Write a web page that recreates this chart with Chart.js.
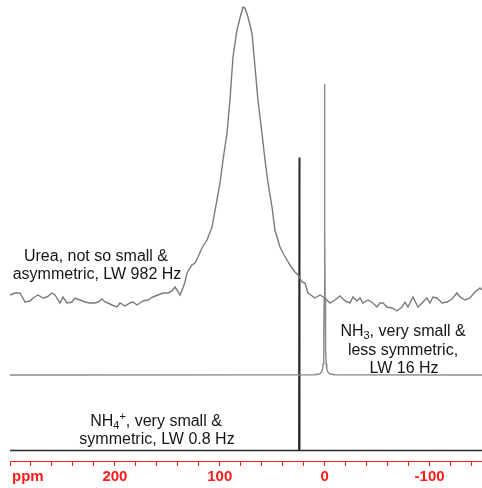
<!DOCTYPE html>
<html>
<head>
<meta charset="utf-8">
<script src="https://cdn.jsdelivr.net/npm/chart.js@4.4.1/dist/chart.umd.min.js"></script>
<style>
  html, body { margin: 0; padding: 0; background: #fff; }
  #wrap { width: 482px; height: 488px; position: relative; }
</style>
</head>
<body>
<div id="wrap"><canvas id="c"></canvas></div>
<script>
// Chemical shift axis (ppm) and intensities (arbitrary units, relative to each baseline)
const ureaPpm = [300, 295.2, 290.5, 285.7, 280.9, 278.1, 273.3, 268.5, 264.7, 260.0,
  257.1, 252.3, 249.5, 245.7, 240.9, 238.0, 233.3, 228.5, 223.7, 219.0,
  216.1, 212.3, 209.4, 206.6, 202.8, 198.0, 195.1, 190.4, 185.6, 182.7,
  178.9, 176.1, 173.2, 168.4, 163.7, 158.9, 154.1, 149.4, 145.6, 142.7,
  140.8, 137.9, 135.1, 133.2, 131.3, 126.5, 123.6, 120.8, 117.0, 112.2,
  107.4, 105.5, 102.7, 99.8, 96.9, 93.1, 90.3, 87.4, 83.6, 80.7,
  77.9, 76.0, 73.1, 69.3, 66.4, 63.6, 59.8, 56.9, 54.0, 50.2,
  47.4, 42.6, 39.7, 35.9, 33.1, 28.3, 25.4, 21.6, 18.8, 15.9,
  9.2, 4.5, -0.3, -5.1, -9.8, -14.6, -19.4, -24.1, -27.0, -30.8,
  -33.7, -36.5, -41.3, -46.0, -49.9, -52.7, -55.6, -59.4, -64.2, -68.9,
  -73.7, -76.6, -79.4, -84.2, -89.0, -92.8, -97.5, -100.4, -103.3, -107.1,
  -111.8, -116.6, -121.4, -126.1, -129.0, -133.8, -138.5, -143.3, -148.1, -150];
const ureaIntensity = [1, 3, 3, -6, -5, -2, 1, -2, -1, 3,
  1, -7, -1, -7, -6, -2, -4, -6, -7, -7,
  -6, -3, -6, -7, -9, -11, -7, -10, -7, -6,
  -9, -7, -5, -4, -1, 1, 3, 3, 5, 9,
  6, 1, 8, 14, 23, 31, 33, 39, 48, 56,
  69, 80, 96, 113, 136, 163, 196, 239, 266, 278,
  289, 288, 279, 263, 229, 196, 163, 136, 113, 89,
  66, 49, 43, 36, 31, 24, 21, 14, 13, 3,
  -2, 1, -2, -7, -4, 0, -5, -7, -1, -5,
  -2, -7, -4, -7, -11, -7, -7, -11, -12, -15,
  -11, -6, -11, -1, -11, -7, -2, -7, -1, -2,
  -7, -6, -3, 3, -1, -4, -2, 4, 8, 6];

const nh3Ppm = [300, 10, 5, 3, 2, 1.5, 1, 0.75, 0.5, 0.3, 0.15, 0,
  -0.15, -0.3, -0.5, -0.75, -1, -1.5, -2, -3, -5, -10, -150];
const nh3Intensity = [0, 0.3, 1, 3, 6, 11, 24, 40, 77, 146, 233, 291,
  233, 146, 77, 40, 24, 11, 6, 3, 1, 0.3, 0];

const nh4Ppm = [300, 24.6, 24.2, 23.8, -150];
const nh4Intensity = [0, 0, 293, 0, 0];

// x-axis labels at every 100 ppm
const labelledTicks = [200, 100, 0, -100];

// vertical stacking of the three spectra
const stackOffset = { urea: 165, nh3: 86, nh4: 10.5 };

function toPoints(ppm, inten, off) {
  return ppm.map((p, i) => ({ x: p, y: inten[i] + off }));
}

const FONT = '"Liberation Sans", Arial, Helvetica, sans-serif';

// Captions drawn next to each spectrum; segments allow sub/superscripts
const captions = [
  { x: 96, y: 257, parts: [['Urea, not so small &', 'n']] },
  { x: 97, y: 275, parts: [['asymmetric, LW 982 Hz', 'n']] },
  { x: 403, y: 332, parts: [['NH', 'n'], ['3', 'sub'], [', very small &', 'n']] },
  { x: 403, y: 351, parts: [['less symmetric,', 'n']] },
  { x: 404, y: 369, parts: [['LW 16 Hz', 'n']] },
  { x: 156, y: 422, parts: [['NH', 'n'], ['4', 'sub'], ['+', 'sup'], [', very small &', 'n']] },
  { x: 157, y: 440, parts: [['symmetric, LW 0.8 Hz', 'n']] }
];

const captionPlugin = {
  id: 'captions',
  afterDraw(chart) {
    const ctx = chart.ctx;
    ctx.save();
    ctx.fillStyle = '#151515';
    ctx.textBaseline = 'middle';
    ctx.textAlign = 'left';
    const big = '16px ' + FONT, small = '11px ' + FONT;
    captions.forEach(c => {
      let w = 0;
      c.parts.forEach(([t, k]) => { ctx.font = k === 'n' ? big : small; w += ctx.measureText(t).width; });
      let x = c.x - w / 2;
      c.parts.forEach(([t, k]) => {
        ctx.font = k === 'n' ? big : small;
        const dy = k === 'sub' ? 4 : (k === 'sup' ? -5 : 0);
        ctx.fillText(t, x, c.y + dy);
        x += ctx.measureText(t).width;
      });
    });
    // unit label at the left end of the axis
    ctx.fillStyle = '#ff1a1a';
    ctx.font = 'bold 15px ' + FONT;
    ctx.fillText('ppm', 12, 477);
    ctx.restore();
  }
};

new Chart(document.getElementById('c'), {
  type: 'line',
  data: {
    datasets: [
      { data: toPoints(ureaPpm, ureaIntensity, stackOffset.urea), borderColor: '#7a7a7a', borderWidth: 1.4 },
      { data: toPoints(nh3Ppm, nh3Intensity, stackOffset.nh3), borderColor: '#8a8a8a', borderWidth: 1.4 },
      { data: toPoints(nh4Ppm, nh4Intensity, stackOffset.nh4), borderColor: '#2a2a2a', borderWidth: 1.6 }
    ]
  },
  options: {
    responsive: true,
    maintainAspectRatio: false,
    animation: false,
    layout: { padding: { left: 10, right: 0, top: 0, bottom: 0 } },
    elements: { point: { radius: 0 }, line: { tension: 0, fill: false } },
    plugins: { legend: { display: false }, tooltip: { enabled: false } },
    scales: {
      x: {
        type: 'linear',
        reverse: true,
        min: -150,
        max: 300,
        afterFit(scale) { scale.height = 27; },
        border: { display: true, color: '#ff1a1a', width: 1 },
        grid: { drawOnChartArea: false, drawTicks: true, tickLength: 5, color: '#ff1a1a' },
        ticks: {
          stepSize: 20,
          includeBounds: false,
          autoSkip: false,
          maxRotation: 0,
          padding: 2,
          color: '#ff1a1a',
          font: { family: FONT, size: 15, weight: 'bold' },
          callback: v => labelledTicks.includes(v) ? String(v) : ''
        }
      },
      y: { display: false, min: 0, max: 461 }
    }
  },
  plugins: [captionPlugin]
});
</script>
</body>
</html>
